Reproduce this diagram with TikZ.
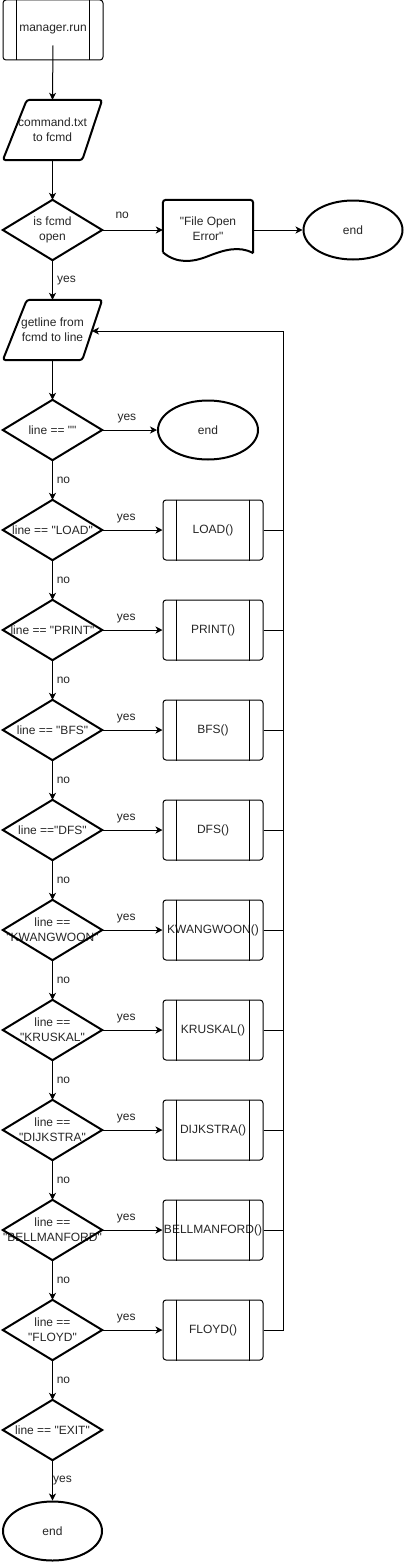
\documentclass[tikz,border=0pt]{standalone}
\usepackage{fontspec}
\setmainfont{Liberation Sans}[Ligatures=TeXOff]
\usetikzlibrary{arrows.meta,calc,shapes.geometric}
\begin{document}
\begin{tikzpicture}[x=1pt,y=-1pt,
  every node/.style={font=\fontsize{12}{15}\selectfont, text=black!85, align=center},
  arr/.style={line width=1pt, -{Stealth[length=7pt,width=7pt,inset=2pt]}},
  ln/.style={line width=1pt},
  bold/.style={line width=2pt},
  boxnode/.style={rectangle, minimum width=99pt, minimum height=60pt, inner sep=0pt},
  procbox/.style={rectangle, draw, line width=1pt, rounded corners=3pt, minimum width=100pt, minimum height=60pt, inner sep=0pt},
  term/.style={ellipse, draw, line width=2pt, minimum width=99pt, minimum height=59pt, inner sep=0pt},
  lab/.style={font=\fontsize{12}{14}\selectfont, inner sep=0pt}
]
\useasboundingbox (0,0) rectangle (404,1563);

% ---------- top part ----------
\node[procbox] (run) at (53,30) {manager.run};
\node[boxnode] (cmd) at (52.5,130) {command.txt\\to fcmd};
\node[boxnode] (d0) at (52.5,230) {is fcmd\\open};
\node[boxnode, minimum width=90pt] (err) at (208,230) {\raisebox{3pt}{"File Open}\\\raisebox{3pt}{Error"}};
\node[term] (end0) at (353,230) {end};
\node[boxnode] (gl) at (52.5,330) {getline from\\fcmd to line};

% process inner lines
\newcommand{\proclines}[1]{%
  \draw[ln] ($(#1.north west)+(14,0)$) -- ($(#1.south west)+(14,0)$);
  \draw[ln] ($(#1.north east)+(-14,0)$) -- ($(#1.south east)+(-14,0)$);}
\newcommand{\paragram}[1]{%
  \draw[bold, rounded corners=3pt] ($(#1.north west)+(24,0)$) -- (#1.north east) -- ($(#1.south east)+(-20,0)$) -- (#1.south west) -- cycle;}
\newcommand{\decshape}[1]{%
  \draw[bold] (#1.north) -- (#1.east) -- (#1.south) -- (#1.west) -- cycle;}

\proclines{run}
\paragram{cmd}
\paragram{gl}
\decshape{d0}
\draw[bold, rounded corners=3pt] ($(err.south west)+(0,-8)$) -- (err.north west) -- (err.north east) -- ($(err.south east)+(0,-7)$);
\draw[bold] ($(err.south east)+(0,-7)$) .. controls ($(err.south east)+(-14,-15)$) and ($(err.south east)+(-30,-10)$) .. ($(err.south)+(0,-4)$)
  .. controls ($(err.south west)+(30,2)$) and ($(err.south west)+(14,4)$) .. ($(err.south west)+(0,-8)$);

\draw[arr] ($(run.south)+(0,-15)$) -- (cmd.north);
\draw[arr] (cmd.south) -- (d0.north);
\draw[arr] (d0.east) -- node[lab, pos=0.33, yshift=15pt] {no} (err.west);
\draw[arr] (err.east) -- (end0.west);
\draw[arr] (d0.south) -- node[lab, xshift=14pt, yshift=-1pt] {yes} (gl.north);

% ---------- loop ----------
\coordinate (loopc) at (283,331);
\coordinate (glin) at (92,331);

% ---------- decision chain ----------
\node[boxnode] (dE) at (52.5,430) {line == ""};
\decshape{dE}
\node[term, minimum width=100pt] (end1) at (208,430) {end};
\draw[arr] (gl.south) -- (dE.north);
\draw[arr] (dE.east) -- node[lab, pos=0.45, yshift=11pt] {yes} (end1.west);

\newcommand{\step}[5]{% #1 name, #2 y, #3 text, #4 proc text, #5 previous
  \node[boxnode] (d#1) at (52.5,#2) {#3};
  \decshape{d#1}
  \node[procbox] (p#1) at (213,#2) {#4};
  \proclines{p#1}
  \draw[arr] (#5.south) -- node[lab, xshift=11pt] {no} (d#1.north);
  \draw[arr] (d#1.east) -- node[lab, pos=0.4, yshift=11pt] {yes} (p#1.west);
}
\step{LOAD}{530}{line == "LOAD"}{LOAD()}{dE}
\step{PRINT}{630}{line == "PRINT"}{PRINT()}{dLOAD}
\step{BFS}{730}{line == "BFS"}{BFS()}{dPRINT}
\step{DFS}{830}{line =="DFS"}{DFS()}{dBFS}
\step{KW}{930}{line ==\\"KWANGWOON"}{KWANGWOON()}{dDFS}
\step{KR}{1030}{line ==\\"KRUSKAL"}{KRUSKAL()}{dKW}
\step{DI}{1130}{line ==\\"DIJKSTRA"}{DIJKSTRA()}{dKR}
\step{BE}{1230}{line ==\\"BELLMANFORD"}{BELLMANFORD()}{dDI}
\step{FL}{1330}{line ==\\"FLOYD"}{FLOYD()}{dBE}

\foreach \p in {LOAD,PRINT,BFS,DFS,KW,KR,DI,BE}
  \draw[ln] (p\p.east) -- (p\p.east -| loopc);
\draw[arr] (pFL.east) -| (loopc) -- (glin);

\node[boxnode] (dX) at (52.5,1430) {line == "EXIT"};
\decshape{dX}
\draw[arr] (dFL.south) -- node[lab, xshift=11pt] {no} (dX.north);
\node[term] (end2) at (52.5,1531) {end};
\draw[arr] (dX.south) -- node[lab, xshift=10pt] {yes} (end2.north);
\end{tikzpicture}
\end{document}
